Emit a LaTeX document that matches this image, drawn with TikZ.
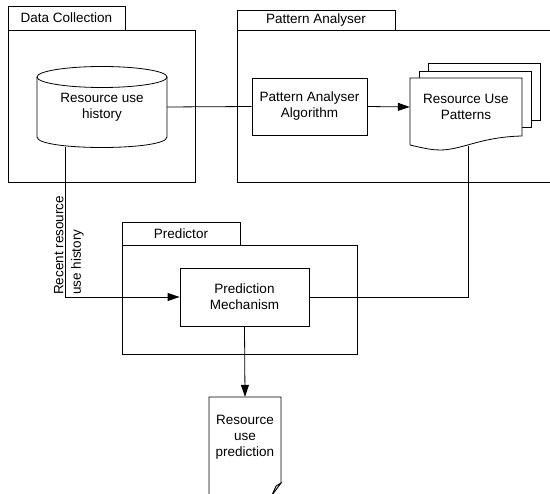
\documentclass[tikz,border=0pt]{standalone}
\usepackage{fontspec}
\setmainfont{Liberation Sans}
\usetikzlibrary{arrows.meta}
\tikzset{
  box/.style={draw, line width=.8pt, inner sep=0pt, align=center},
  pkg/.style={draw, line width=.8pt, inner sep=0pt},
  line/.style={line width=.8pt},
  arr/.style={line width=.8pt, -{Triangle[length=12pt,width=8pt]}},
  every node/.style={font=\fontsize{13.5}{16}\selectfont}
}
\begin{document}
\begin{tikzpicture}[x=1pt,y=-1pt]
\useasboundingbox (0,0) rectangle (550,494);
\clip (0,0) rectangle (550,494);
\node[pkg, minimum width=117, minimum height=24] (dctab) at (66.5,18) {Data Collection};
\node[pkg, minimum width=187, minimum height=152] (dcbox) at (101.5,106) {};
\node[pkg, minimum width=158, minimum height=20] (patab) at (316,20) {Pattern Analyser};
\node[pkg, minimum width=323, minimum height=152] (pabox) at (398.5,106) {};
\node[pkg, minimum width=118, minimum height=23] (prtab) at (181,233.5) {Predictor};
\node[pkg, minimum width=235, minimum height=109] (prbox) at (239.5,299.5) {};
\node[align=center, inner sep=0pt, minimum width=130, minimum height=81] (hist) at (102,107) {Resource use\\history};
\draw[line] (102,77) ellipse [x radius=65, y radius=10.5];
\draw[line] (37,77) -- (37,137) .. controls (37,151) and (167,151) .. (167,137) -- (167,77);
\node[box, minimum width=115, minimum height=57] (algo) at (309.5,106.5) {Pattern Analyser\\Algorithm};
\draw[line, fill=white] (428,63) rectangle (540,120);
\draw[line, fill=white] (419,71) rectangle (531,127);
\draw[line, fill=white] (410,145) -- (410,78) -- (522,78) -- (522,136) .. controls (480,137) and (462,150) .. (440,150) .. controls (432,150) and (425,148.5) .. (410,145);
\node[align=center, inner sep=0pt, minimum width=112, minimum height=58] (patterns) at (466,107) {Resource Use\\Patterns};
\coordinate (patbot) at (468,146);
\node[box, minimum width=129, minimum height=58] (mech) at (244.5,297) {Prediction\\Mechanism};
\node[align=center, inner sep=0pt, minimum width=72, minimum height=80] (pred) at (245,437) {Resource\\use\\prediction};
\draw[line] (209,500) -- (209,397) -- (281,397) -- (281,483) -- (272,495);
\draw[line, fill=gray!30] (281,483) -- (276,486) -- (272,495) -- cycle;
\coordinate (histbot) at (65,147);
\node[rotate=90, anchor=west, align=left, inner sep=0pt, font=\fontsize{13.5}{17.5}\selectfont] (recent) at (69,295) {Recent resource\\use history};
\draw[line] (hist.east) -- (algo.west);
\draw[arr] (algo.east) -- (patterns.west);
\draw[line] (patbot) |- (mech.east);
\draw[arr] (histbot) |- (mech.west);
\draw[arr] (mech.south) -- (pred.north);
\end{tikzpicture}
\end{document}
